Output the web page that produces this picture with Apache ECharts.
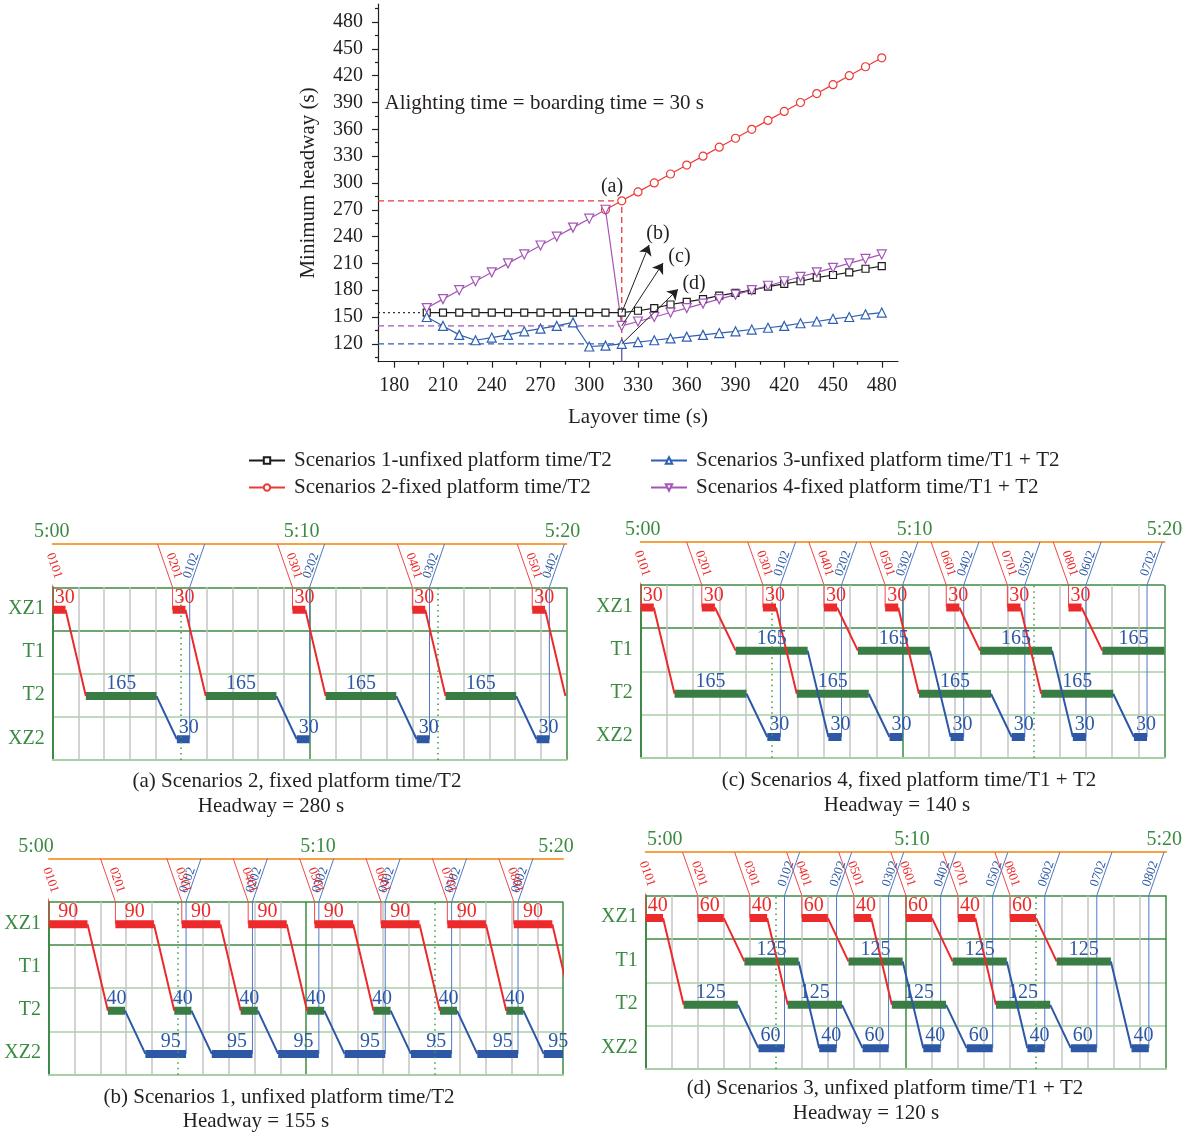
<!DOCTYPE html>
<html>
<head>
<meta charset="utf-8">
<title>Minimum headway vs layover time</title>
<script src="https://cdn.jsdelivr.net/npm/echarts@6.0.0/dist/echarts.min.js"></script>
<style>
html,body{margin:0;padding:0;background:#ffffff;}
#chart{width:1188px;height:1132px;}
</style>
</head>
<body>
<div id="chart"></div>
<script>
// ================= DATA : top chart =================
const layoverTime = [200,210,220,230,240,250,260,270,280,290,300,310,320,330,340,350,360,370,380,390,400,410,420,430,440,450,460,470,480];
const s1Headway = [155,155,155,155,155,155,155,155,155,155,155,155,155,157,160,164,167,170,174,177,180,184,187,190,194,197,200,204,207];
const s2Layover = [310,320,330,340,350,360,370,380,390,400,410,420,430,440,450,460,470,480];
const s2Headway = [270,280,290,300,310,320,330,340,350,360,370,380,390,400,410,420,430,440];
const s3Headway = [150,140,130,124,127,130,134,137,140,144,117,118,120,122,124,126,128,130,132,134,136,138,140,143,145,148,150,153,155];
const s4Headway = [160,170,180,190,200,210,220,230,240,250,260,270,140,145,150,155,160,165,170,175,180,185,190,195,200,205,210,215,220];
const seriesNames = ['Scenarios 1-unfixed platform time/T2','Scenarios 2-fixed platform time/T2','Scenarios 3-unfixed platform time/T1 + T2','Scenarios 4-fixed platform time/T1 + T2'];
const xTickLabels = [180,210,240,270,300,330,360,390,420,450,480];
const xMinorTicks = [195,225,255,285,315,345,375,405,435,465];
const yTickLabels = [120,150,180,210,240,270,300,330,360,390,420,450,480];
const yMinorTicks = [105,135,165,195,225,255,285,315,345,375,405,435,465,495];
const optLayover = 320;
const optHeadway = [155, 280, 120, 140];       // S1, S2, S3, S4 at the chosen layover
const noteText = 'Alighting time = boarding time = 30 s';
const annText = ['(a)','(b)','(c)','(d)'];

// ================= DATA : train diagrams =================
const stations = ['XZ2','T2','T1','XZ1'];
const timeLabels = ['5:00','5:10','5:20'];
const runTime = 47.5;            // XZ1 <-> turnback track running time (s)
const slantTime = 35;            // train-number leader line length (s)
const dottedMarks = [300, 900];  // 5:05, 5:15

// (a) Scenarios 2
const aUp = ['0101','0201','0301','0401','0501'];
const aDown = ['0102','0202','0302','0402','0502'];
const aDep = [0,280,560,840,1120];
const aDwellXZ1 = [30,30,30,30,30];
const aTerm = ['T2','T2','T2','T2','T2'];
const aLayover = [165,165,165,165,165];
const aDwellXZ2 = [30,30,30,30,30];
// (b) Scenarios 1
const bUp = ['0101','0201','0301','0401','0501','0601','0701','0801'];
const bDown = ['0102','0202','0302','0402','0502','0602','0702','0802'];
const bDep = [0,155,310,465,620,775,930,1085];
const bDwellXZ1 = [90,90,90,90,90,90,90,90];
const bTerm = ['T2','T2','T2','T2','T2','T2','T2','T2'];
const bLayover = [40,40,40,40,40,40,40,40];
const bDwellXZ2 = [95,95,95,95,95,95,95,95];
// (c) Scenarios 4
const cUp = ['0101','0201','0301','0401','0501','0601','0701','0801'];
const cDown = ['0102','0202','0302','0402','0502','0602','0702','0802'];
const cDep = [0,140,280,420,560,700,840,980];
const cDwellXZ1 = [30,30,30,30,30,30,30,30];
const cTerm = ['T2','T1','T2','T1','T2','T1','T2','T1'];
const cLayover = [165,165,165,165,165,165,165,165];
const cDwellXZ2 = [30,30,30,30,30,30,30,30];
// (d) Scenarios 3
const dUp = ['0101','0201','0301','0401','0501','0601','0701','0801'];
const dDown = ['0102','0202','0302','0402','0502','0602','0702','0802'];
const dDep = [0,120,240,360,480,600,720,840];
const dDwellXZ1 = [40,60,40,60,40,60,40,60];
const dTerm = ['T2','T1','T2','T1','T2','T1','T2','T1'];
const dLayover = [125,125,125,125,125,125,125,125];
const dDwellXZ2 = [60,40,60,40,60,40,60,40];

const captions = [
  '(a) Scenarios 2, fixed platform time/T2',
  '(b) Scenarios 1, unfixed platform time/T2',
  '(c) Scenarios 4, fixed platform time/T1 + T2',
  '(d) Scenarios 3, unfixed platform time/T1 + T2'
];
const headwayTexts = ['Headway = 280 s','Headway = 155 s','Headway = 140 s','Headway = 120 s'];

// ================= STYLE / LAYOUT =================
const FONT = '"Liberation Serif","DejaVu Serif",serif';
const INK = '#231f20';
const RED = '#ed2a2b', BLUE = '#2c58a6', GBAR = '#3a7d44', ORANGE = '#f6a243';
const TGREEN = '#3a8a40', DGREEN = '#3f8a45', LGREEN = '#a8cfa8', GREY = '#c4c4c4';
const ST = {XZ1: 3.48, T1: 2.48, T2: 1.48, XZ2: 0.48};
const BRK = ['-','-'];

const panels = [
  {up:aUp, down:aDown, dep:aDep, d1:aDwellXZ1, term:aTerm, lay:aLayover, d2:aDwellXZ2,
   grid:{left:52.7, top:587.3, width:513.8, height:172.7}, xz1:'left', xz2:'left', xz2dx:0,
   tShift:[-1, -8, -4], cap:[297,781], hw:[271,806]},
  {up:bUp, down:bDown, dep:bDep, d1:bDwellXZ1, term:bTerm, lay:bLayover, d2:bDwellXZ2,
   grid:{left:49, top:901.7, width:514, height:173}, xz1:'center', xz2:'center', xz2dx:5,
   tShift:[-13, 12, -7], cap:[279,1097], hw:[256,1121]},
  {up:cUp, down:cDown, dep:cDep, d1:cDwellXZ1, term:cTerm, lay:cLayover, d2:cDwellXZ2,
   grid:{left:640.7, top:585, width:523.8, height:172.7}, xz1:'left', xz2:'left', xz2dx:0,
   tShift:[2, 12, 0], cap:[909,780], hw:[897,805]},
  {up:dUp, down:dDown, dep:dDep, d1:dDwellXZ1, term:dTerm, lay:dLayover, d2:dDwellXZ2,
   grid:{left:645.7, top:895.5, width:520.5, height:173.5}, xz1:'left', xz2:'left', xz2dx:0,
   tShift:[19, 6, -2], cap:[885,1088], hw:[866,1113]}
];

const grids = [], xAxes = [], yAxes = [], series = [], graphics = [];

// ---------------- top chart ----------------
grids.push({left:378, top:4.2, width:520, height:357.5});
const axisTxt = {fontSize:20, fontFamily:FONT, color:INK};
const nameTxt = {fontSize:21, fontFamily:FONT, color:INK};
xAxes.push({gridIndex:0, type:'value', min:170, max:490, position:'bottom',
  axisLine:{show:true, onZero:false, lineStyle:{color:INK, width:1.2}},
  axisTick:{show:true, customValues:xTickLabels, length:6, lineStyle:{color:INK, width:1.2}},
  axisLabel:Object.assign({show:true, customValues:xTickLabels, margin:14}, axisTxt),
  splitLine:{show:false},
  name:'Layover time (s)', nameLocation:'middle', nameGap:45, nameTextStyle:nameTxt});
xAxes.push({gridIndex:0, type:'value', min:170, max:490, position:'bottom',
  axisLine:{show:false, onZero:false},
  axisTick:{show:true, customValues:xMinorTicks, length:3, lineStyle:{color:INK, width:1.2}},
  axisLabel:{show:false}, splitLine:{show:false}});
yAxes.push({gridIndex:0, type:'value', min:100, max:500, position:'left',
  axisLine:{show:true, onZero:false, lineStyle:{color:INK, width:1.2}},
  axisTick:{show:true, customValues:yTickLabels, length:6, lineStyle:{color:INK, width:1.2}},
  axisLabel:Object.assign({show:true, customValues:yTickLabels, margin:15}, axisTxt),
  splitLine:{show:false},
  name:'Minimum headway (s)', nameLocation:'middle', nameGap:59, nameRotate:90, nameTextStyle:nameTxt});
yAxes.push({gridIndex:0, type:'value', min:100, max:500, position:'left',
  axisLine:{show:false, onZero:false},
  axisTick:{show:true, customValues:yMinorTicks, length:3, lineStyle:{color:INK, width:1.2}},
  axisLabel:{show:false}, splitLine:{show:false}});

const zip = (xs, ys) => xs.map((x, i) => [x, ys[i]]);
const topDefs = [
  {name:seriesNames[0], data:zip(layoverTime, s1Headway), c:'#1c1c1c', sym:'rect', size:7, rot:0},
  {name:seriesNames[1], data:zip(s2Layover, s2Headway), c:'#ec3a36', sym:'circle', size:8, rot:0},
  {name:seriesNames[2], data:zip(layoverTime, s3Headway), c:'#2f5fb3', sym:'triangle', size:9, rot:0},
  {name:seriesNames[3], data:zip(layoverTime, s4Headway), c:'#a455b8', sym:'triangle', size:9, rot:180}
];
const xMinTop = 170, yMinTop = 100;
function guide(data, color, type, width) {
  return {type:'line', xAxisIndex:0, yAxisIndex:0, data:data, symbol:'none', silent:true, z:1,
    lineStyle:{color:color, type:type, width:width || 1.3}};
}
series.push(guide([[xMinTop, optHeadway[0]], [layoverTime[0], optHeadway[0]]], '#333', [2,3], 1.3));
series.push(guide([[xMinTop, optHeadway[1]], [optLayover, optHeadway[1]], [optLayover, optHeadway[2]]], '#ec3a36', [6,4], 1.3));
series.push(guide([[xMinTop, optHeadway[3]], [optLayover, optHeadway[3]]], '#a455b8', [6,4], 1.3));
series.push(guide([[xMinTop, optHeadway[2]], [optLayover, optHeadway[2]]], '#2f5fb3', [6,4], 1.3));
series.push(guide([[optLayover, optHeadway[2]], [optLayover, yMinTop]], '#6a4fb0', 'solid', 1.3));

topDefs.forEach(d => {
  series.push({type:'line', name:d.name, xAxisIndex:0, yAxisIndex:0, data:d.data,
    symbol:d.sym, symbolSize:d.size, symbolRotate:d.rot, showAllSymbol:true, silent:true, z:3,
    lineStyle:{color:d.c, width:1.2},
    itemStyle:{color:'#ffffff', borderColor:d.c, borderWidth:1.2}});
});

// annotation arrows and labels
const arrowFrom = [optHeadway[0], optHeadway[3], optHeadway[2]];
const arrowTips = [[336.8, 230.5], [345.4, 210.3], [354.6, 181]];
series.push({type:'scatter', xAxisIndex:0, yAxisIndex:0, symbolSize:0, silent:true, z:5, clip:false,
  itemStyle:{opacity:1},
  data:[
    {value:[314, 296], label:{formatter:annText[0]}},
    {value:[342.3, 243], label:{formatter:annText[1]}},
    {value:[355.5, 217], label:{formatter:annText[2]}},
    {value:[364.5, 187], label:{formatter:annText[3]}},
    {value:[174, 389], label:{formatter:noteText, align:'left', fontSize:21}}
  ],
  label:{show:true, position:'inside', fontSize:20, fontFamily:FONT, color:INK, align:'center', verticalAlign:'middle'},
  markLine:{silent:true, symbol:['none','arrow'], symbolSize:10, label:{show:false},
    lineStyle:{color:INK, width:1, type:'solid'},
    data: arrowTips.map((tp, i) => [{coord:[optLayover, arrowFrom[i]]}, {coord:tp}])}
});

// ---------------- train diagrams ----------------
const vGridColors = [];
for (let i = 0; i < 20; i++) {
  vGridColors.push(i === 0 || i === 10 ? DGREEN : (i === 5 || i === 15 ? 'rgba(0,0,0,0)' : GREY));
}
function shiftPad(s) {
  return s >= 0 ? [0, 0, 0, 2 * s] : [0, -2 * s, 0, 0];
}

panels.forEach((P, k) => {
  const gi = grids.length;
  const g = P.grid;
  grids.push({left:g.left, top:g.top, width:g.width, height:g.height});
  const band = g.height / 4;
  const xi = xAxes.length, yi = yAxes.length;
  const timeRich = {};
  P.tShift.forEach((s, j) => {
    timeRich['t' + j] = {fontSize:20, fontFamily:FONT, color:TGREEN, padding:shiftPad(s)};
  });
  xAxes.push({gridIndex:gi, type:'value', min:0, max:1200, interval:60, position:'bottom',
    axisLine:{show:true, onZero:false, lineStyle:{color:LGREEN, width:2}},
    axisTick:{show:false}, axisLabel:{show:false},
    splitLine:{show:true, lineStyle:{color:vGridColors, width:1.5}}});
  xAxes.push({gridIndex:gi, type:'value', min:0, max:1200, interval:600, position:'top', offset:band,
    axisLine:{show:true, onZero:false, lineStyle:{color:ORANGE, width:2}},
    axisTick:{show:false}, splitLine:{show:false},
    axisLabel:{show:true, showMinLabel:true, showMaxLabel:true, margin:2, fontSize:20, fontFamily:FONT, color:TGREEN,
      formatter:(v) => { const j = Math.round(v / 600); return '{t' + j + '|' + timeLabels[j] + '}'; },
      rich:timeRich}});
  yAxes.push({gridIndex:gi, type:'value', min:0, max:4, interval:1, position:'left',
    axisLine:{show:true, onZero:false, lineStyle:{color:DGREEN, width:2}},
    axisTick:{show:false}, axisLabel:{show:false},
    splitLine:{show:true, lineStyle:{color:[LGREEN, LGREEN, LGREEN, DGREEN, DGREEN], width:1.5}}});
  yAxes.push({gridIndex:gi, type:'category', data:stations, position:'left', boundaryGap:true,
    axisLine:{show:false}, axisTick:{show:false}, splitLine:{show:false},
    axisLabel:{interval:0, margin:8, fontSize:20, fontFamily:FONT, color:TGREEN}});

  const pxs = g.width / 1200;            // pixels per second
  const ang = Math.atan2(band, slantTime * pxs) * 180 / Math.PI;
  const redLead = [], blueLead = [], redBar = [], greenBar = [], blueBar = [], redRun = [], blueRun = [];
  const lbl = [];
  const clampEnd = (v) => Math.min(v, 1200);
  const minVis = 5, minLbl = 30;
  P.dep.forEach((t0, i) => {
    const yT = ST[P.term[i]];
    const t1 = t0 + P.d1[i], t2 = t1 + runTime, t3 = t2 + P.lay[i], t4 = t3 + runTime, t5 = t4 + P.d2[i];
    redLead.push([t0 - slantTime, 5], [t0, 4], [t0, ST.XZ1], BRK);
    if (clampEnd(t1) - t0 > minVis) redBar.push([t0, ST.XZ1], [clampEnd(t1), ST.XZ1], BRK);
    redRun.push([t1, ST.XZ1], [t2, yT], BRK);
    if (clampEnd(t3) - t2 > minVis) greenBar.push([t2, yT], [clampEnd(t3), yT], BRK);
    blueRun.push([t3, yT], [t4, ST.XZ2], BRK);
    if (clampEnd(t5) - t4 > minVis) blueBar.push([t4, ST.XZ2], [clampEnd(t5), ST.XZ2], BRK);
    // dwell labels
    if (P.xz1 === 'left') {
      lbl.push({value:[t0, ST.XZ1], label:{formatter:String(P.d1[i]), color:RED, align:'left', offset:[2, -2]}});
    } else {
      lbl.push({value:[(t0 + clampEnd(t1)) / 2, ST.XZ1], label:{formatter:String(P.d1[i]), color:RED, align:'center', offset:[0, -2]}});
    }
    if (clampEnd(t3) - t2 > Math.min(minLbl, P.lay[i] - 1)) {
      lbl.push({value:[(t2 + clampEnd(t3)) / 2, yT], label:{formatter:String(P.lay[i]), color:BLUE, align:'center', offset:[0, -2]}});
    }
    if (clampEnd(t5) - t4 > Math.min(minLbl, P.d2[i] - 1)) {
      if (P.xz2 === 'left') {
        lbl.push({value:[t4, ST.XZ2], label:{formatter:String(P.d2[i]), color:BLUE, align:'left', offset:[2, -2]}});
      } else {
        lbl.push({value:[(t4 + clampEnd(t5)) / 2, ST.XZ2], label:{formatter:String(P.d2[i]), color:BLUE, align:'center', offset:[P.xz2dx, -2]}});
      }
    }
    // train numbers (placed beside their leader lines)
    lbl.push({value:[t0 - slantTime / 2 + 9 / pxs, 4.5], label:{formatter:P.up[i], color:RED, fontSize:13, rotate:-ang,
      align:'center', verticalAlign:'middle'}});
    if (t5 <= 1200) {
      blueLead.push([t5, ST.XZ2], [t5, 4], [t5 + slantTime, 5], BRK);
      lbl.push({value:[t5 + slantTime / 2 - 6 / pxs, 4.5], label:{formatter:P.down[i], color:BLUE, fontSize:13, rotate:ang,
        align:'center', verticalAlign:'middle'}});
    }
  });
  const base = {type:'line', xAxisIndex:xi, yAxisIndex:yi, symbol:'none', silent:true, connectNulls:false};
  series.push(Object.assign({}, base, {data:redLead, clip:false, z:2, lineStyle:{color:'#ee4a4a', width:1}}));
  series.push(Object.assign({}, base, {data:blueLead, clip:false, z:2, lineStyle:{color:'#4f78c6', width:1}}));
  series.push(Object.assign({}, base, {data:redBar, z:3, lineStyle:{color:RED, width:8, cap:'butt'}}));
  series.push(Object.assign({}, base, {data:greenBar, z:3, lineStyle:{color:GBAR, width:8, cap:'butt'},
    markLine:{silent:true, symbol:['none','none'], label:{show:false},
      lineStyle:{color:'#3d9a45', type:[1.5, 4], width:1.5},
      data:dottedMarks.map(v => ({xAxis:v}))}}));
  series.push(Object.assign({}, base, {data:blueBar, z:3, lineStyle:{color:BLUE, width:8, cap:'butt'}}));
  series.push(Object.assign({}, base, {data:redRun, z:4, lineStyle:{color:RED, width:2}}));
  series.push(Object.assign({}, base, {data:blueRun, z:4, lineStyle:{color:BLUE, width:2}}));
  series.push({type:'scatter', xAxisIndex:xi, yAxisIndex:yi, symbolSize:0, silent:true, clip:false, z:6, data:lbl,
    itemStyle:{opacity:1},
    label:{show:true, position:'inside', fontSize:20, fontFamily:FONT, verticalAlign:'bottom'}});

  graphics.push({type:'text', x:P.cap[0], y:P.cap[1], silent:true,
    style:{text:captions[k], fill:INK, font:'21px ' + FONT, align:'center', verticalAlign:'middle', textAlign:'center', textVerticalAlign:'middle'}});
  graphics.push({type:'text', x:P.hw[0], y:P.hw[1], silent:true,
    style:{text:headwayTexts[k], fill:INK, font:'21px ' + FONT, align:'center', verticalAlign:'middle', textAlign:'center', textVerticalAlign:'middle'}});
});

const legendText = {fontSize:21, fontFamily:FONT, color:INK, padding:[0,0,0,4]};
const option = {
  animation:false,
  backgroundColor:'#ffffff',
  grid:grids, xAxis:xAxes, yAxis:yAxes, series:series,
  legend:[
    {data:[seriesNames[0], seriesNames[1]], orient:'vertical', left:248, top:450, padding:0, itemWidth:36, itemHeight:8, itemGap:6,
     selectedMode:false, textStyle:legendText},
    {data:[seriesNames[2], seriesNames[3]], orient:'vertical', left:650, top:450, padding:0, itemWidth:36, itemHeight:8, itemGap:6,
     selectedMode:false, textStyle:legendText}
  ],
  graphic:graphics
};
const chart = echarts.init(document.getElementById('chart'), null, {renderer:'canvas'});
chart.setOption(option);
</script>
</body>
</html>
